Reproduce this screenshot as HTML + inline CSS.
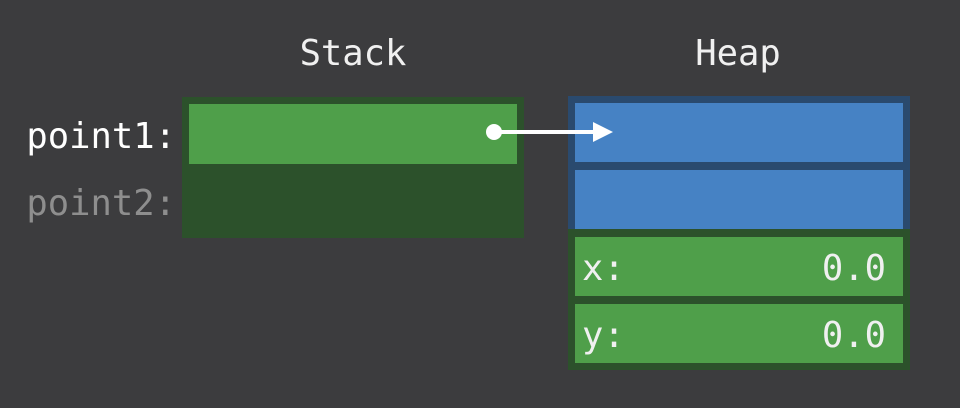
<!DOCTYPE html>
<html><head><meta charset="utf-8"><style>
html,body{margin:0;padding:0;background:#3c3c3e;}
svg{display:block}
text{font-family:"DejaVu Sans Mono","Liberation Mono",monospace;font-size:35.5px;}
</style></head><body>
<svg width="960" height="408" viewBox="0 0 960 408" xmlns="http://www.w3.org/2000/svg">
<rect width="960" height="408" fill="#3c3c3e"/>
<text x="353" y="65" fill="#f0f0f0" text-anchor="middle">Stack</text>
<text x="738" y="65" fill="#f0f0f0" text-anchor="middle">Heap</text>
<text x="176" y="148" fill="#ffffff" text-anchor="end">point1:</text>
<text x="176" y="215" fill="#8e8e8e" text-anchor="end">point2:</text>
<rect x="182" y="97" width="342" height="141" fill="#2c512b"/>
<rect x="189" y="104" width="328" height="60" fill="#4f9f4a"/>
<rect x="568" y="96" width="342" height="136" fill="#2a4a6e"/>
<rect x="568" y="229" width="342" height="141" fill="#2c512b"/>
<rect x="575" y="103" width="328" height="59" fill="#4682c4"/>
<rect x="575" y="170" width="328" height="59" fill="#4682c4"/>
<rect x="575" y="237" width="328" height="59" fill="#4f9f4a"/>
<rect x="575" y="304" width="328" height="59" fill="#4f9f4a"/>
<text x="582" y="280" fill="#f0f0f0">x:</text>
<text x="886" y="280" fill="#f0f0f0" text-anchor="end">0.0</text>
<text x="582" y="347" fill="#f0f0f0">y:</text>
<text x="886" y="347" fill="#f0f0f0" text-anchor="end">0.0</text>
<circle cx="494" cy="132" r="8" fill="#fff"/>
<line x1="494" y1="132" x2="600" y2="132" stroke="#fff" stroke-width="4"/>
<polygon points="593,122 613,132 593,142" fill="#fff"/>
</svg>
</body></html>
